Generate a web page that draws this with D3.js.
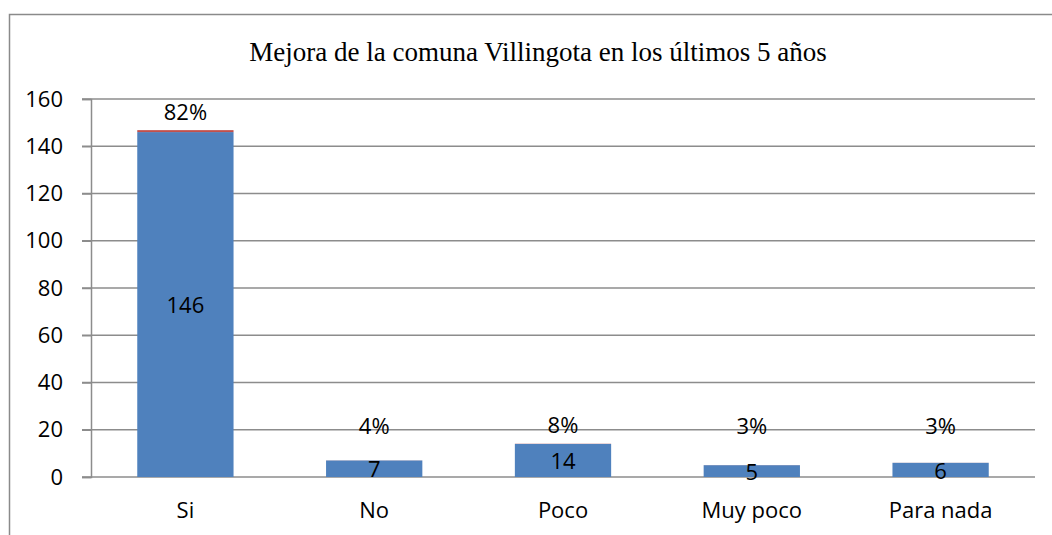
<!DOCTYPE html>
<html>
<head>
<meta charset="utf-8">
<script src="https://cdn.jsdelivr.net/npm/d3@7"></script>
<style>
  body { margin: 0; background: #fff; }
  svg { display: block; }
</style>
</head>
<body>
<div id="chart"></div>
<script>
// data
const categories = ["Si", "No", "Poco", "Muy poco", "Para nada"];
const counts = [146, 7, 14, 5, 6];
const shares = [0.82, 0.04, 0.08, 0.03, 0.03];
const shareLabels = ["82%", "4%", "8%", "3%", "3%"];
const yTicks = [0, 20, 40, 60, 80, 100, 120, 140, 160];
const title = "Mejora de la comuna Villingota en los últimos 5 años";

const W = 1052, H = 535;
const plot = { left: 91, right: 1035, top: 99, bottom: 477 };
const labelFont = "'Open Sans', sans-serif";

const svg = d3
  .select("#chart")
  .append("svg")
  .attr("width", W)
  .attr("height", H);

// chart area border (right and bottom edges fall outside the picture)
svg
  .append("rect")
  .attr("x", 9.5)
  .attr("y", 14.5)
  .attr("width", 1060)
  .attr("height", 560)
  .attr("fill", "#fff")
  .attr("stroke", "#8a8a8a")
  .attr("stroke-width", 1.5);

svg
  .append("text")
  .attr("x", 538)
  .attr("y", 61)
  .attr("text-anchor", "middle")
  .style("font-family", "'Liberation Serif', 'Times New Roman', serif")
  .style("font-size", "27px")
  .attr("fill", "#000")
  .text(title);

const x = d3
  .scaleBand()
  .domain(categories)
  .range([plot.left, plot.right])
  .paddingInner(0.49)
  .paddingOuter(0.245);

const y = d3.scaleLinear().domain([0, 160]).range([plot.bottom, plot.top]);

// gridlines
svg
  .append("g")
  .selectAll("line")
  .data(yTicks)
  .join("line")
  .attr("x1", plot.left - 9)
  .attr("x2", plot.right)
  .attr("y1", (d) => y(d))
  .attr("y2", (d) => y(d))
  .attr("stroke", "#8c8c8c")
  .attr("stroke-width", 1.5);

// y axis
const yAxis = svg
  .append("g")
  .attr("transform", `translate(${plot.left},0)`)
  .call(d3.axisLeft(y).tickValues(yTicks).tickSize(9).tickPadding(19));
yAxis.select(".domain").attr("stroke", "#8c8c8c").attr("stroke-width", 1.5);
yAxis.selectAll(".tick line").attr("stroke", "#8c8c8c").attr("stroke-width", 1.5);
yAxis
  .selectAll("text")
  .style("font-family", labelFont)
  .style("font-size", "22px")
  .attr("fill", "#000");

// x axis labels
const xAxis = svg
  .append("g")
  .attr("transform", `translate(0,${plot.bottom})`)
  .call(d3.axisBottom(x).tickSize(0).tickPadding(25));
xAxis.select(".domain").remove();
xAxis
  .selectAll("text")
  .style("font-family", labelFont)
  .style("font-size", "22px")
  .attr("fill", "#000");

// stacked series: counts then shares
const rows = categories.map((c, i) => ({ cat: c, count: counts[i], share: shares[i] }));
const stacked = d3.stack().keys(["count", "share"])(rows);
const colors = { count: "#4F81BD", share: "#C0504D" };

svg
  .append("g")
  .selectAll("g")
  .data(stacked)
  .join("g")
  .attr("fill", (d) => colors[d.key])
  .selectAll("rect")
  .data((d) => d)
  .join("rect")
  .attr("x", (d) => x(d.data.cat))
  .attr("y", (d) => y(d[1]))
  .attr("width", x.bandwidth())
  .attr("height", (d) => y(d[0]) - y(d[1]));

// count labels in the middle of the blue segment
svg
  .append("g")
  .selectAll("text")
  .data(rows)
  .join("text")
  .attr("x", (d) => x(d.cat) + x.bandwidth() / 2)
  .attr("y", (d) => y(d.count / 2) + 1)
  .attr("dy", "0.35em")
  .attr("text-anchor", "middle")
  .style("font-family", labelFont)
  .style("font-size", "22px")
  .attr("fill", "#000")
  .text((d) => d.count);

// share labels above
svg
  .append("g")
  .selectAll("text")
  .data(rows)
  .join("text")
  .attr("x", (d) => x(d.cat) + x.bandwidth() / 2)
  .attr("y", (d) => Math.min(y(d.count + d.share), y(14)) - 18)
  .attr("dy", "0.35em")
  .attr("text-anchor", "middle")
  .style("font-family", labelFont)
  .style("font-size", "22px")
  .attr("fill", "#000")
  .text((d, i) => shareLabels[i]);
</script>
</body>
</html>
